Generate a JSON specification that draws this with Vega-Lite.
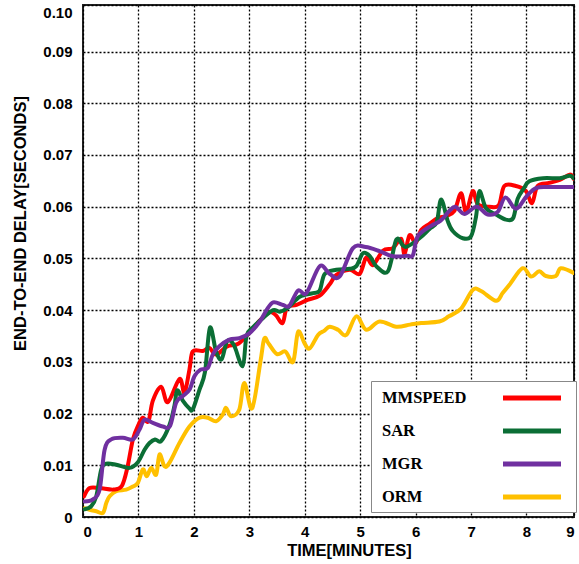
{
  "$schema": "https://vega.github.io/schema/vega-lite/v6.json",
  "width": 491,
  "height": 512,
  "autosize": {"type": "none"},
  "padding": {"left": 83, "top": 5, "right": 5, "bottom": 47},
  "background": "white",
  "config": {"view": {"stroke": "#222", "strokeWidth": 2}},
  "data": {"values": [
    {"s":"ORM","t":0.03,"d":0.0017},{"s":"ORM","t":0.12,"d":0.0014},{"s":"ORM","t":0.24,"d":0.0011},{"s":"ORM","t":0.36,"d":0.0008},{"s":"ORM","t":0.42,"d":0.0027},{"s":"ORM","t":0.48,"d":0.004},{"s":"ORM","t":0.6,"d":0.005},{"s":"ORM","t":0.78,"d":0.0053},{"s":"ORM","t":0.9,"d":0.0059},{"s":"ORM","t":0.99,"d":0.0066},{"s":"ORM","t":1.08,"d":0.0092},{"s":"ORM","t":1.15,"d":0.0079},{"s":"ORM","t":1.23,"d":0.0095},{"s":"ORM","t":1.32,"d":0.0082},{"s":"ORM","t":1.38,"d":0.0121},{"s":"ORM","t":1.47,"d":0.0098},{"s":"ORM","t":1.56,"d":0.0105},{"s":"ORM","t":1.74,"d":0.0143},{"s":"ORM","t":1.92,"d":0.0175},{"s":"ORM","t":2.1,"d":0.0192},{"s":"ORM","t":2.25,"d":0.0192},{"s":"ORM","t":2.4,"d":0.0185},{"s":"ORM","t":2.52,"d":0.0198},{"s":"ORM","t":2.58,"d":0.0211},{"s":"ORM","t":2.67,"d":0.0195},{"s":"ORM","t":2.82,"d":0.0208},{"s":"ORM","t":2.91,"d":0.0259},{"s":"ORM","t":3.05,"d":0.021},{"s":"ORM","t":3.2,"d":0.03},{"s":"ORM","t":3.27,"d":0.0345},{"s":"ORM","t":3.35,"d":0.0335},{"s":"ORM","t":3.5,"d":0.0315},{"s":"ORM","t":3.65,"d":0.032},{"s":"ORM","t":3.79,"d":0.03},{"s":"ORM","t":3.88,"d":0.0358},{"s":"ORM","t":4.0,"d":0.0335},{"s":"ORM","t":4.09,"d":0.0326},{"s":"ORM","t":4.24,"d":0.0352},{"s":"ORM","t":4.35,"d":0.036},{"s":"ORM","t":4.45,"d":0.0368},{"s":"ORM","t":4.6,"d":0.0362},{"s":"ORM","t":4.75,"d":0.0352},{"s":"ORM","t":4.93,"d":0.0388},{"s":"ORM","t":5.11,"d":0.0362},{"s":"ORM","t":5.35,"d":0.0378},{"s":"ORM","t":5.65,"d":0.0368},{"s":"ORM","t":5.9,"d":0.0372},{"s":"ORM","t":6.1,"d":0.0375},{"s":"ORM","t":6.43,"d":0.0378},{"s":"ORM","t":6.6,"d":0.0388},{"s":"ORM","t":6.82,"d":0.0403},{"s":"ORM","t":7.03,"d":0.0439},{"s":"ORM","t":7.18,"d":0.0437},{"s":"ORM","t":7.45,"d":0.0418},{"s":"ORM","t":7.57,"d":0.0433},{"s":"ORM","t":7.7,"d":0.045},{"s":"ORM","t":7.93,"d":0.0481},{"s":"ORM","t":8.08,"d":0.0465},{"s":"ORM","t":8.23,"d":0.0475},{"s":"ORM","t":8.35,"d":0.0466},{"s":"ORM","t":8.53,"d":0.0466},{"s":"ORM","t":8.62,"d":0.0481},{"s":"ORM","t":8.85,"d":0.0472},
    {"s":"MMSPEED","t":0.02,"d":0.004},{"s":"MMSPEED","t":0.12,"d":0.0056},{"s":"MMSPEED","t":0.3,"d":0.0056},{"s":"MMSPEED","t":0.55,"d":0.0053},{"s":"MMSPEED","t":0.7,"d":0.006},{"s":"MMSPEED","t":0.8,"d":0.0095},{"s":"MMSPEED","t":0.9,"d":0.015},{"s":"MMSPEED","t":1.0,"d":0.0178},{"s":"MMSPEED","t":1.08,"d":0.0192},{"s":"MMSPEED","t":1.18,"d":0.0185},{"s":"MMSPEED","t":1.26,"d":0.0225},{"s":"MMSPEED","t":1.41,"d":0.0252},{"s":"MMSPEED","t":1.53,"d":0.0222},{"s":"MMSPEED","t":1.74,"d":0.0267},{"s":"MMSPEED","t":1.83,"d":0.024},{"s":"MMSPEED","t":1.92,"d":0.0285},{"s":"MMSPEED","t":1.98,"d":0.032},{"s":"MMSPEED","t":2.16,"d":0.0321},{"s":"MMSPEED","t":2.28,"d":0.0327},{"s":"MMSPEED","t":2.4,"d":0.0314},{"s":"MMSPEED","t":2.6,"d":0.033},{"s":"MMSPEED","t":2.8,"d":0.0335},{"s":"MMSPEED","t":3.0,"d":0.0356},{"s":"MMSPEED","t":3.19,"d":0.038},{"s":"MMSPEED","t":3.37,"d":0.0396},{"s":"MMSPEED","t":3.48,"d":0.039},{"s":"MMSPEED","t":3.6,"d":0.0375},{"s":"MMSPEED","t":3.68,"d":0.0405},{"s":"MMSPEED","t":3.85,"d":0.041},{"s":"MMSPEED","t":4.05,"d":0.042},{"s":"MMSPEED","t":4.27,"d":0.0428},{"s":"MMSPEED","t":4.45,"d":0.045},{"s":"MMSPEED","t":4.57,"d":0.0468},{"s":"MMSPEED","t":4.81,"d":0.0478},{"s":"MMSPEED","t":4.99,"d":0.047},{"s":"MMSPEED","t":5.11,"d":0.0502},{"s":"MMSPEED","t":5.23,"d":0.0487},{"s":"MMSPEED","t":5.41,"d":0.0515},{"s":"MMSPEED","t":5.59,"d":0.052},{"s":"MMSPEED","t":5.74,"d":0.0538},{"s":"MMSPEED","t":5.8,"d":0.0508},{"s":"MMSPEED","t":5.89,"d":0.0545},{"s":"MMSPEED","t":6.0,"d":0.053},{"s":"MMSPEED","t":6.1,"d":0.0555},{"s":"MMSPEED","t":6.25,"d":0.0567},{"s":"MMSPEED","t":6.4,"d":0.0578},{"s":"MMSPEED","t":6.55,"d":0.0582},{"s":"MMSPEED","t":6.7,"d":0.0592},{"s":"MMSPEED","t":6.82,"d":0.0626},{"s":"MMSPEED","t":6.91,"d":0.059},{"s":"MMSPEED","t":7.03,"d":0.063},{"s":"MMSPEED","t":7.12,"d":0.0605},{"s":"MMSPEED","t":7.33,"d":0.06},{"s":"MMSPEED","t":7.5,"d":0.0603},{"s":"MMSPEED","t":7.6,"d":0.064},{"s":"MMSPEED","t":7.81,"d":0.064},{"s":"MMSPEED","t":7.99,"d":0.063},{"s":"MMSPEED","t":8.1,"d":0.0607},{"s":"MMSPEED","t":8.2,"d":0.064},{"s":"MMSPEED","t":8.41,"d":0.0646},{"s":"MMSPEED","t":8.6,"d":0.0652},{"s":"MMSPEED","t":8.78,"d":0.0662},{"s":"MMSPEED","t":8.85,"d":0.0654},
    {"s":"SAR","t":0.03,"d":0.0015},{"s":"SAR","t":0.15,"d":0.0021},{"s":"SAR","t":0.24,"d":0.004},{"s":"SAR","t":0.33,"d":0.0092},{"s":"SAR","t":0.42,"d":0.0103},{"s":"SAR","t":0.6,"d":0.0101},{"s":"SAR","t":0.84,"d":0.0095},{"s":"SAR","t":0.99,"d":0.0106},{"s":"SAR","t":1.11,"d":0.013},{"s":"SAR","t":1.2,"d":0.0143},{"s":"SAR","t":1.3,"d":0.015},{"s":"SAR","t":1.41,"d":0.0147},{"s":"SAR","t":1.56,"d":0.0178},{"s":"SAR","t":1.65,"d":0.0215},{"s":"SAR","t":1.7,"d":0.0245},{"s":"SAR","t":1.8,"d":0.0225},{"s":"SAR","t":1.92,"d":0.021},{"s":"SAR","t":1.98,"d":0.0208},{"s":"SAR","t":2.1,"d":0.0246},{"s":"SAR","t":2.2,"d":0.028},{"s":"SAR","t":2.29,"d":0.0366},{"s":"SAR","t":2.4,"d":0.032},{"s":"SAR","t":2.5,"d":0.0305},{"s":"SAR","t":2.6,"d":0.034},{"s":"SAR","t":2.72,"d":0.0333},{"s":"SAR","t":2.88,"d":0.0292},{"s":"SAR","t":2.95,"d":0.035},{"s":"SAR","t":3.07,"d":0.0367},{"s":"SAR","t":3.25,"d":0.0385},{"s":"SAR","t":3.43,"d":0.04},{"s":"SAR","t":3.55,"d":0.0397},{"s":"SAR","t":3.7,"d":0.0405},{"s":"SAR","t":3.91,"d":0.0426},{"s":"SAR","t":4.15,"d":0.0433},{"s":"SAR","t":4.27,"d":0.0438},{"s":"SAR","t":4.36,"d":0.047},{"s":"SAR","t":4.57,"d":0.0478},{"s":"SAR","t":4.81,"d":0.048},{"s":"SAR","t":4.93,"d":0.0485},{"s":"SAR","t":5.05,"d":0.051},{"s":"SAR","t":5.17,"d":0.0505},{"s":"SAR","t":5.29,"d":0.0485},{"s":"SAR","t":5.5,"d":0.0475},{"s":"SAR","t":5.65,"d":0.0536},{"s":"SAR","t":5.77,"d":0.0525},{"s":"SAR","t":5.85,"d":0.0523},{"s":"SAR","t":6.07,"d":0.0539},{"s":"SAR","t":6.25,"d":0.0557},{"s":"SAR","t":6.38,"d":0.057},{"s":"SAR","t":6.46,"d":0.0614},{"s":"SAR","t":6.58,"d":0.0572},{"s":"SAR","t":6.67,"d":0.0553},{"s":"SAR","t":6.85,"d":0.0539},{"s":"SAR","t":7.0,"d":0.0543},{"s":"SAR","t":7.09,"d":0.0581},{"s":"SAR","t":7.15,"d":0.063},{"s":"SAR","t":7.27,"d":0.0597},{"s":"SAR","t":7.45,"d":0.0585},{"s":"SAR","t":7.63,"d":0.0575},{"s":"SAR","t":7.76,"d":0.0578},{"s":"SAR","t":7.84,"d":0.0615},{"s":"SAR","t":7.95,"d":0.0635},{"s":"SAR","t":8.05,"d":0.0649},{"s":"SAR","t":8.3,"d":0.0655},{"s":"SAR","t":8.6,"d":0.0655},{"s":"SAR","t":8.78,"d":0.066},{"s":"SAR","t":8.85,"d":0.0655},
    {"s":"MGR","t":0.03,"d":0.003},{"s":"MGR","t":0.18,"d":0.0034},{"s":"MGR","t":0.3,"d":0.0053},{"s":"MGR","t":0.39,"d":0.013},{"s":"MGR","t":0.51,"d":0.015},{"s":"MGR","t":0.72,"d":0.0153},{"s":"MGR","t":0.9,"d":0.015},{"s":"MGR","t":1.02,"d":0.0169},{"s":"MGR","t":1.11,"d":0.0188},{"s":"MGR","t":1.26,"d":0.0182},{"s":"MGR","t":1.44,"d":0.0175},{"s":"MGR","t":1.57,"d":0.0176},{"s":"MGR","t":1.68,"d":0.0221},{"s":"MGR","t":1.8,"d":0.0234},{"s":"MGR","t":1.92,"d":0.0246},{"s":"MGR","t":2.01,"d":0.0272},{"s":"MGR","t":2.12,"d":0.0285},{"s":"MGR","t":2.25,"d":0.0288},{"s":"MGR","t":2.34,"d":0.0314},{"s":"MGR","t":2.46,"d":0.033},{"s":"MGR","t":2.64,"d":0.0343},{"s":"MGR","t":2.82,"d":0.0346},{"s":"MGR","t":3.0,"d":0.0355},{"s":"MGR","t":3.19,"d":0.0378},{"s":"MGR","t":3.31,"d":0.04},{"s":"MGR","t":3.43,"d":0.0415},{"s":"MGR","t":3.61,"d":0.041},{"s":"MGR","t":3.72,"d":0.0408},{"s":"MGR","t":3.88,"d":0.0438},{"s":"MGR","t":4.03,"d":0.0433},{"s":"MGR","t":4.27,"d":0.0485},{"s":"MGR","t":4.45,"d":0.047},{"s":"MGR","t":4.63,"d":0.0465},{"s":"MGR","t":4.87,"d":0.052},{"s":"MGR","t":5.1,"d":0.0522},{"s":"MGR","t":5.35,"d":0.0514},{"s":"MGR","t":5.59,"d":0.0504},{"s":"MGR","t":5.85,"d":0.0505},{"s":"MGR","t":5.95,"d":0.0506},{"s":"MGR","t":6.04,"d":0.0543},{"s":"MGR","t":6.28,"d":0.0563},{"s":"MGR","t":6.45,"d":0.0573},{"s":"MGR","t":6.61,"d":0.0592},{"s":"MGR","t":6.72,"d":0.06},{"s":"MGR","t":6.88,"d":0.0586},{"s":"MGR","t":7.1,"d":0.06},{"s":"MGR","t":7.3,"d":0.0585},{"s":"MGR","t":7.48,"d":0.059},{"s":"MGR","t":7.62,"d":0.0618},{"s":"MGR","t":7.81,"d":0.0596},{"s":"MGR","t":8.0,"d":0.062},{"s":"MGR","t":8.17,"d":0.0636},{"s":"MGR","t":8.41,"d":0.0638},{"s":"MGR","t":8.85,"d":0.0638}
  ]},
  "mark": {"type": "line", "interpolate": "cardinal", "strokeWidth": 4, "strokeCap": "round", "strokeJoin": "round", "clip": true},
  "encoding": {
    "x": {
      "field": "t", "type": "quantitative",
      "scale": {"domain": [0, 8.857], "nice": false, "zero": false},
      "axis": {
        "title": "TIME[MINUTES]",
        "values": [0, 1, 2, 3, 4, 5, 6, 7, 8, 8.857],
        "labelExpr": "datum.value > 8.5 ? '9' : format(datum.value, 'd')",
        "grid": true, "gridColor": "#000", "gridDash": [2, 2], "gridWidth": 1.3, "gridOpacity": 1,
        "domain": false, "ticks": false,
        "labelFont": "Liberation Sans", "labelFontWeight": "bold", "labelFontSize": 15, "labelColor": "#000",
        "labelPadding": 7, "labelFlush": true,
        "titleFont": "Liberation Sans", "titleFontSize": 16.5, "titleFontWeight": "bold", "titleColor": "#000",
        "titleX": 266, "titleY": 33, "titleBaseline": "middle", "titleAlign": "center"
      }
    },
    "y": {
      "field": "d", "type": "quantitative",
      "scale": {"domain": [0, 0.099], "nice": false, "zero": true},
      "axis": {
        "title": "END-TO-END DELAY[SECONDS]",
        "values": [0, 0.01, 0.02, 0.03, 0.04, 0.05, 0.06, 0.07, 0.08, 0.09, 0.099],
        "labelExpr": "datum.value > 0.095 ? '0.10' : (datum.value == 0 ? '0' : format(datum.value, '.2f'))",
        "grid": true, "gridColor": "#000", "gridDash": [2, 2], "gridWidth": 1.3, "gridOpacity": 1,
        "domain": false, "ticks": false,
        "labelFont": "Liberation Sans", "labelFontWeight": "bold", "labelFontSize": 15, "labelColor": "#000",
        "labelPadding": 11,
        "labelBaseline": {"condition": {"test": "datum.value > 0.095", "value": "top"}, "value": "middle"},
        "titleFont": "Liberation Sans", "titleFontSize": 16.5, "titleFontWeight": "bold", "titleColor": "#000",
        "titleX": -63, "titleY": 218, "titleBaseline": "middle", "titleAlign": "center", "titleAngle": -90
      }
    },
    "color": {
      "field": "s", "type": "nominal",
      "scale": {"domain": ["MMSPEED", "SAR", "MGR", "ORM"], "range": ["#ff0000", "#0b6e35", "#7030a0", "#ffc000"]},
      "legend": {
        "orient": "none", "legendX": 288, "legendY": 376,
        "title": null,
        "strokeColor": "#888", "fillColor": "white", "padding": 4.5,
        "symbolType": "M-2.9,0H2.9", "symbolSize": 400, "symbolStrokeWidth": 5,
        "symbolOffset": 144, "labelOffset": -162.5,
        "labelFont": "Liberation Serif", "labelFontSize": 16.5, "labelFontWeight": "bold", "labelColor": "#000",
        "rowPadding": 10,
        "encode": {"symbols": {"update": {"stroke": {"signal": "datum.value === 'SAR' ? '#00b050' : scale('color', datum.value)"}}}}
      }
    }
  }
}
